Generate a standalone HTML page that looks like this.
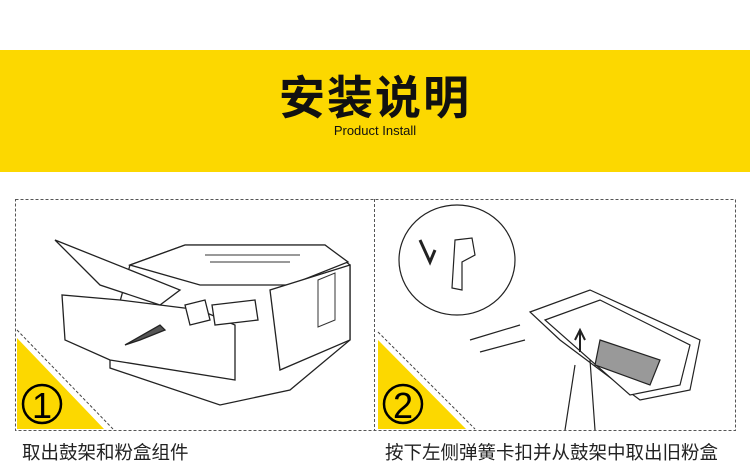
<!DOCTYPE html>
<html><head><meta charset="utf-8"><style>
html,body{margin:0;padding:0;background:#fff;}
body{width:750px;height:474px;position:relative;overflow:hidden;font-family:"Liberation Sans","Noto Sans CJK SC",sans-serif;}
.band{position:absolute;left:0;top:50px;width:750px;height:122px;background:#fcd800;}
.t1{position:absolute;left:0;width:750px;top:72px;text-align:center;font-size:46px;font-weight:bold;color:#111;letter-spacing:2px;line-height:52px;}
.t2{position:absolute;left:0;width:750px;top:123px;text-align:center;font-size:13px;color:#111;}
.cap{position:absolute;top:439px;font-size:18.5px;color:#222;}
</style></head><body>
<div class="band"></div>
<div class="t1">安装说明</div>
<div class="t2">Product Install</div>
<svg width="750" height="474" style="position:absolute;left:0;top:0">
<g fill="none" stroke="#555" stroke-dasharray="3,2" stroke-width="1">
<rect x="15.5" y="199.5" width="720" height="231"/>
<line x1="374.5" y1="199" x2="374.5" y2="430"/>
</g>
<polygon points="17,338 17,429 104,429" fill="#fcd800"/>
<polygon points="378,340 378,429 466,429" fill="#fcd800"/>
<g stroke="#444" stroke-dasharray="3,2" fill="none">
<line x1="17" y1="330" x2="113" y2="429"/>
<line x1="378" y1="332" x2="475" y2="429"/>
</g>
<g fill="none" stroke="#000" stroke-width="2.5">
<circle cx="42" cy="404" r="19"/><circle cx="403" cy="404" r="19"/>
</g>
<text x="42" y="418" font-size="36" text-anchor="middle" font-family="Liberation Sans">1</text>
<text x="403" y="418" font-size="36" text-anchor="middle" font-family="Liberation Sans">2</text>
<!-- printer -->
<g fill="#fff" stroke="#222" stroke-width="1.3">
<path d="M110 338 L110 368 L220 405 L290 390 L350 340 L350 265 L325 245 L185 245 L130 265 Z"/>
<path d="M130 265 L185 245 L325 245 L348 262 L290 285 L200 285 Z"/>
<path d="M62 295 L65 340 L110 360 L235 380 L235 325 L200 310 L120 300 Z"/>
<path d="M270 290 L280 370 L350 340 L350 265 Z"/>
<path d="M55 240 L130 270 L180 290 L160 305 L100 285 Z"/>
<path d="M140 340 L165 330 L160 325 L125 345 Z" fill="#555"/>
<path d="M185 305 L205 300 L210 320 L190 325 Z"/>
<path d="M212 305 L255 300 L258 320 L215 325 Z"/>
</g>
<g fill="none" stroke="#333" stroke-width="1">
<path d="M205 255 L300 255 M210 262 L290 262"/>
<path d="M318 280 L335 273 L335 320 L318 327 Z"/>
</g>
<!-- step 2 -->
<g fill="#fff" stroke="#222" stroke-width="1.2">
<ellipse cx="457" cy="260" rx="58" ry="55"/>
<path d="M455 240 L472 238 L475 255 L462 262 L462 290 L452 288 Z"/>
<path d="M420 240 L430 262 L435 250" stroke-width="3"/>
<path d="M530 312 L590 290 L700 340 L690 390 L640 400 L560 340 Z"/>
<path d="M545 320 L600 300 L690 345 L680 385 L630 395 Z"/>
<path d="M600 340 L660 360 L650 385 L595 365 Z" fill="#999"/>
<path d="M575 340 L580 330 L585 340 M580 330 L580 352" stroke-width="2"/>
<path d="M575 365 L565 430 M590 360 L595 430 M470 340 L520 325 M480 352 L525 340"/>
</g>
</svg>
<div class="cap" style="left:22px">取出鼓架和粉盒组件</div>
<div class="cap" style="left:385px">按下左侧弹簧卡扣并从鼓架中取出旧粉盒</div>
</body></html>
